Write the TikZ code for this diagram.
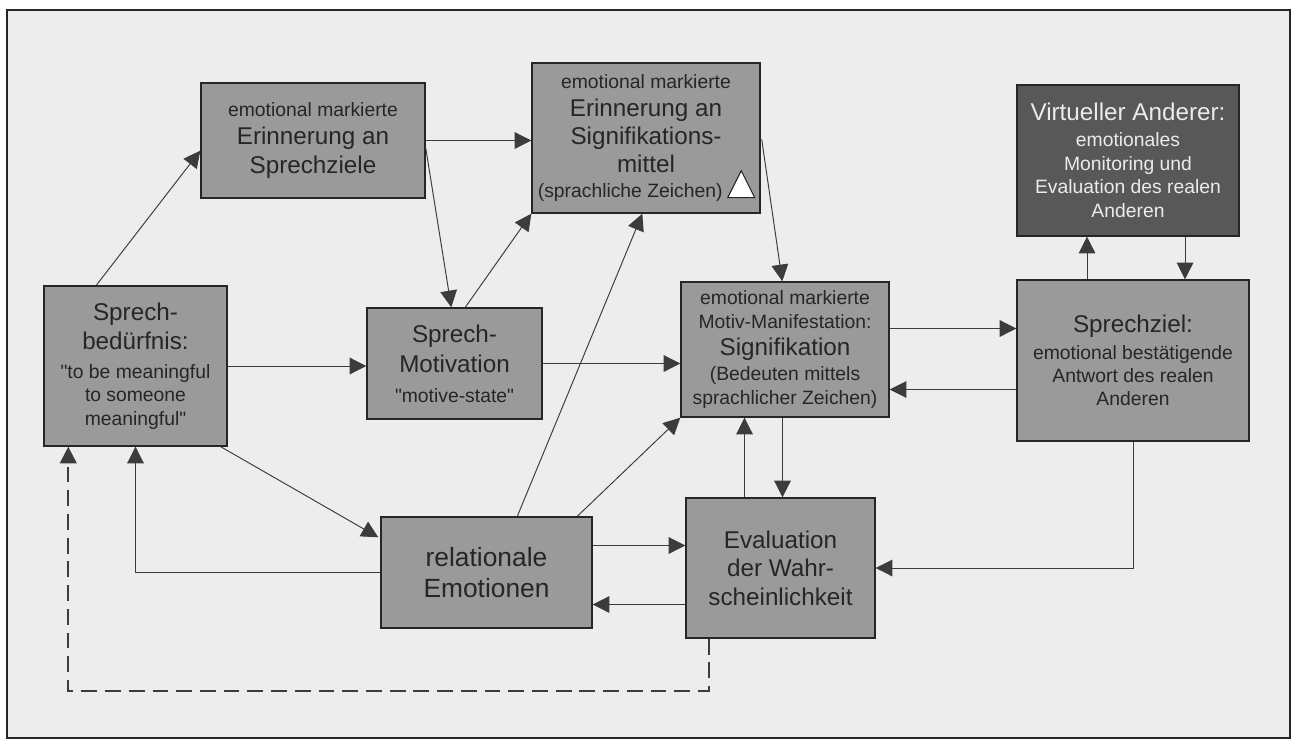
\documentclass[tikz,border=0pt]{standalone}
\usepackage{fontspec}
\setmainfont{Liberation Sans}
\usetikzlibrary{arrows.meta,calc}

\definecolor{boxgray}{HTML}{9A9A9A}
\definecolor{vagray}{HTML}{585858}
\definecolor{inkgray}{HTML}{262626}
\definecolor{paper}{HTML}{EDEDED}

\newlength\pxu
\setlength\pxu{0.02cm}
\newcommand\smalltxt{\fontsize{11}{13.5}\selectfont}
\newcommand\bigtxt{\fontsize{13.8}{16}\selectfont}
\newcommand\qq{\textquotedbl}

\tikzset{
    box/.style={draw=inkgray, line width=0.8pt, fill=boxgray, text=inkgray, align=center, inner sep=0pt},
    boxsize/.style 2 args={minimum width=#1\pxu, minimum height=#2\pxu},
    arr/.style={draw=inkgray!90, line width=0.55pt, -{Triangle[length=9.5pt,width=9.5pt]}},
    dasharr/.style={arr, line width=1.1pt, dash pattern=on 9pt off 4.5pt}
}

\begin{document}
\begin{tikzpicture}[x=0.02cm, y=-0.02cm]
        \useasboundingbox (0,0) rectangle (1301,744);
        \draw[draw=inkgray, line width=0.9pt, fill=paper] (7,10) rectangle (1290,738);

        % boxes
        \node[box, boxsize={224}{115}, font=\bigtxt] (ES) at (313,140.5) {{\smalltxt emotional markierte}\\Erinnerung an\\Sprechziele};
        \node[box, boxsize={228}{150}, font=\bigtxt] (EM) at (646,138) {{\smalltxt emotional markierte}\\Erinnerung an\\Signifikations-\\mittel\\[-2pt]{\smalltxt (sprachliche Zeichen)\kern18pt}};
        \node[box, fill=vagray, text=white!92!black, boxsize={222}{151}, font=\smalltxt] (VA) at (1128,160.5) {{\bigtxt Virtueller Anderer:}\\[1pt]emotionales\\Monitoring und\\Evaluation des realen\\Anderen};
        \node[box, boxsize={183}{160}, font=\smalltxt] (SB) at (135.5,366) {{\bigtxt Sprech-}\\[3.5pt]{\bigtxt bedürfnis:}\\[2.5pt]\qq to be meaningful\\to someone\\meaningful\qq};
        \node[box, boxsize={175}{111}, font=\fontsize{13.8}{17}\selectfont] (SM) at (454.5,363.5) {Sprech-\\Motivation\\{\smalltxt \qq motive-state\qq}};
        \node[box, boxsize={208}{135}, font=\smalltxt] (Sig) at (785,349.5) {emotional markierte\\Motiv-Manifestation:\\[2pt]{\bigtxt Signifikation}\\[1pt](Bedeuten mittels\\sprachlicher Zeichen)};
        \node[box, boxsize={232}{161}, font=\fontsize{11}{13.2}\selectfont] (SZ) at (1133,360.5) {{\bigtxt Sprechziel:}\\[2pt]emotional bestätigende\\Antwort des realen\\Anderen};
        \node[box, boxsize={211}{111}, font=\fontsize{15}{17.7}\selectfont] (RE) at (486.5,572.5) {relationale\\Emotionen};
        \node[box, boxsize={189}{140}, font=\fontsize{13.8}{16.3}\selectfont] (Eval) at (780.5,568) {Evaluation\\der Wahr-\\scheinlichkeit};

        % white triangle
        \draw[inkgray, fill=white, line width=0.6pt] ($(EM.south east)+(-33,-16)$) -- ($(EM.south east)+(-6,-16)$) -- ($(EM.south east)+(-19.5,-43)$) -- cycle;

        % connectors
        \draw[arr] ($(SB.north west)+(53,0)$) -- ($(ES.south west)+(0,-48)$);
        \draw[arr] (ES.east) -- (ES.east -| EM.west);
        \draw[arr] ($(ES.south east)+(0,-51)$) -- ($(SM.north west)+(85,0)$);
        \draw[arr] ($(SM.north west)+(99,0)$) -- (EM.south west);
        \draw[arr] ($(RE.north west)+(137,0)$) -- ($(EM.south west)+(111,0)$);
        \draw[arr] ($(EM.north east)+(1,77)$) -- ($(Sig.north west)+(102,0)$);
        \draw[arr] (SB.east) -- (SB.east -| SM.west);
        \draw[arr] (SM.east) -- (SM.east -| Sig.west);
        \draw[arr] ($(SB.south east)+(-7,0)$) -- ($(RE.north west)+(-2,21)$);
        \draw[arr] (RE.west) -| (SB.south);
        \draw[arr] ($(RE.north west)+(197,0)$) -- (Sig.south west);
        \draw[arr] ([yshift=27\pxu]RE.east) -- ([yshift=27\pxu]RE.east -| Eval.west);
        \draw[arr] ([yshift=-32\pxu]RE.east -| Eval.west) -- ([yshift=-32\pxu]RE.east);
        \draw[arr] ([xshift=-36\pxu]Eval.north) -- ([xshift=-36\pxu]Eval.north |- Sig.south);
        \draw[arr] ([xshift=2\pxu]Eval.north |- Sig.south) -- ([xshift=2\pxu]Eval.north);
        \draw[arr] ([yshift=21\pxu]Sig.east) -- ([yshift=21\pxu]Sig.east -| SZ.west);
        \draw[arr] ([yshift=-40\pxu]Sig.east -| SZ.west) -- ([yshift=-40\pxu]Sig.east);
        \draw[arr] (SZ.south) |- (Eval.east);
        \draw[arr] ([xshift=-41\pxu]VA.south |- SZ.north) -- ([xshift=-41\pxu]VA.south);
        \draw[arr] ([xshift=57\pxu]VA.south) -- ([xshift=57\pxu]VA.south |- SZ.north);
        \draw[dasharr] ([xshift=24\pxu]Eval.south west) -- ++(0,52) -| ([xshift=25\pxu]SB.south west);
\end{tikzpicture}
\end{document}
